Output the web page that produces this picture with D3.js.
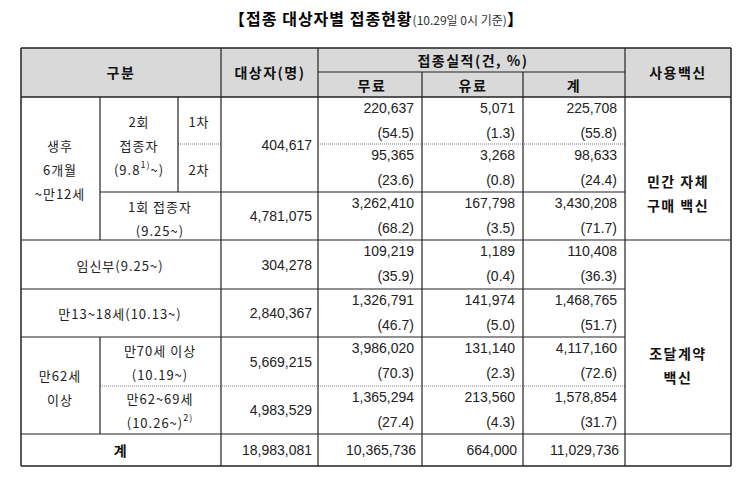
<!DOCTYPE html>
<html><head><meta charset="utf-8">
<script src="https://cdn.jsdelivr.net/npm/d3@7"></script>
<style>
body{margin:0;background:#fff;}
text{font-family:"Noto Sans CJK KR","Liberation Sans",sans-serif;}
.num{font-family:"Liberation Sans",sans-serif;font-size:14px;fill:#222;}
.lab{font-size:13px;fill:#222;letter-spacing:1px;}
.hd{font-size:14px;font-weight:bold;fill:#111;letter-spacing:1.5px;}
</style></head>
<body><svg width="755" height="477"></svg>
<script>
// rows: 1차, 2차, 1회, 임신부, 만13-18, 만70+, 만62-69, 계
const targets = [404617, null, 4781075, 304278, 2840367, 5669215, 4983529, 18983081];
const freeN = [220637, 95365, 3262410, 109219, 1326791, 3986020, 1365294, 10365736];
const freeP = [54.5, 23.6, 68.2, 35.9, 46.7, 70.3, 27.4, null];
const paidN = [5071, 3268, 167798, 1189, 141974, 131140, 213560, 664000];
const paidP = [1.3, 0.8, 3.5, 0.4, 5.0, 2.3, 4.3, null];
const totalN = [225708, 98633, 3430208, 110408, 1468765, 4117160, 1578854, 11029736];
const totalP = [55.8, 24.4, 71.7, 36.3, 51.7, 72.6, 31.7, null];

const svg = d3.select("svg");
const colX = [21, 100, 178, 221, 318, 422, 523, 625, 731];
const rowY = [97, 144, 192, 240, 289, 337, 386, 434, 466];
const top0 = 48, hMid = 72;
const fmt = d3.format(",");
const pf = d3.format(".1f");

// title
const t = svg.append("text").attr("x", 376).attr("y", 25).attr("text-anchor", "middle");
t.append("tspan").attr("font-size", 16).attr("font-weight", "bold").attr("letter-spacing", 1).text("【접종 대상자별 접종현황");
t.append("tspan").attr("font-size", 12).attr("fill", "#333").text("(10.29일 0시 기준)");
t.append("tspan").attr("font-size", 16).attr("font-weight", "bold").text("】");

// header bg
svg.append("rect").attr("x", colX[0]).attr("y", top0).attr("width", colX[8] - colX[0]).attr("height", rowY[0] - top0).attr("fill", "#d9d9d9");

const line = (x1, y1, x2, y2, dotted, w) => svg.append("line")
    .attr("x1", x1).attr("y1", y1).attr("x2", x2).attr("y2", y2)
    .attr("stroke", dotted ? "#777" : "#222").attr("stroke-width", w || (dotted ? 1 : 1.2))
    .attr("stroke-dasharray", dotted ? "1,1" : null);

// horizontal lines
line(colX[0], top0, colX[8], top0, false, 1.5);
line(colX[4], hMid, colX[7], hMid);
line(colX[0], rowY[0], colX[8], rowY[0], false, 1.5);
line(colX[2], rowY[1], colX[3], rowY[1], true);
line(colX[4], rowY[1], colX[7], rowY[1], true);
line(colX[1], rowY[2], colX[7], rowY[2]);
line(colX[0], rowY[3], colX[8], rowY[3]);
line(colX[0], rowY[4], colX[7], rowY[4]);
line(colX[0], rowY[5], colX[7], rowY[5]);
line(colX[1], rowY[6], colX[7], rowY[6], true);
line(colX[0], rowY[7], colX[8], rowY[7]);
line(colX[0], rowY[8], colX[8], rowY[8], false, 1.5);

// vertical lines
line(colX[0], top0, colX[0], rowY[8], false, 1.5);
line(colX[8], top0, colX[8], rowY[8], false, 1.5);
[3, 4, 7].forEach(i => line(colX[i], top0, colX[i], rowY[8]));
[5, 6].forEach(i => line(colX[i], hMid, colX[i], rowY[8]));
line(colX[1], rowY[0], colX[1], rowY[3]);
line(colX[2], rowY[0], colX[2], rowY[2]);
line(colX[1], rowY[5], colX[1], rowY[7]);

const txt = (x, y, s, cls, anchor) => svg.append("text").attr("x", x).attr("y", y)
    .attr("class", cls).attr("text-anchor", anchor || "middle").attr("dominant-baseline", "central").text(s);

// header text
txt(121, 72, "구분", "hd");
txt(270, 72, "대상자(명)", "hd");
txt(473, 60, "접종실적(건, %)", "hd");
txt(372, 85, "무료", "hd");
txt(473, 85, "유료", "hd");
txt(574, 85, "계", "hd");
txt(678, 72, "사용백신", "hd");

// row labels
["생후", "6개월", "~만12세"].forEach((s, i) => txt(60, 145 + i * 24, s, "lab"));
txt(139, 121, "2회", "lab");
txt(139, 145, "접종자", "lab");
const s1 = txt(139, 169, "(9.8", "lab");
s1.append("tspan").attr("font-size", 9).attr("dy", -5).text("1)");
s1.append("tspan").attr("dy", 5).text("~)");
txt(199, 121, "1차", "lab");
txt(199, 169, "2차", "lab");
txt(160, 206, "1회 접종자", "lab");
txt(160, 230, "(9.25~)", "lab");
txt(120, 265, "임신부(9.25~)", "lab");
txt(120, 313, "만13~18세(10.13~)", "lab");
txt(60, 375, "만62세", "lab");
txt(60, 399, "이상", "lab");
txt(160, 350, "만70세 이상", "lab");
txt(160, 374, "(10.19~)", "lab");
txt(160, 398, "만62~69세", "lab");
const s2 = txt(160, 422, "(10.26~)", "lab");
s2.append("tspan").attr("font-size", 9).attr("dy", -5).text("2)");
txt(121, 450, "계", "hd");

txt(678, 181, "민간 자체", "hd");
txt(678, 205, "구매 백신", "hd");
txt(678, 353, "조달계약", "hd");
txt(678, 377, "백신", "hd");

// numeric cells
const rowIdx = d3.range(totalN.length);
const last = totalN.length - 1;
rowIdx.forEach(i => {
    const y0 = rowY[i], y1 = rowY[i + 1];
    if (targets[i] !== null) {
        const yEnd = i === 0 ? rowY[2] : y1;
        txt(colX[4] - 6, (y0 + yEnd) / 2, fmt(targets[i]), "num", "end");
    }
    [[freeN, freeP, 5], [paidN, paidP, 6], [totalN, totalP, 7]].forEach(([n, p, c]) => {
        if (i === last) {
            txt(colX[c] - 6, (y0 + y1) / 2, fmt(n[i]), "num", "end");
        } else {
            txt(colX[c] - 8, y0 + 11, fmt(n[i]), "num", "end");
            txt(colX[c] - 8, y0 + 36, "(" + pf(p[i]) + ")", "num", "end");
        }
    });
});
</script></body></html>
